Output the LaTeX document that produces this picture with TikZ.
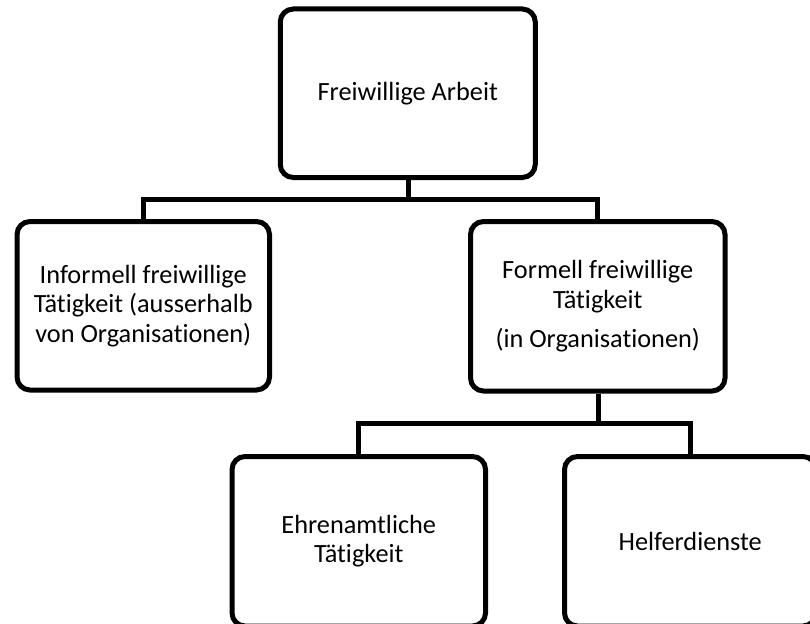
\documentclass[tikz,border=0pt]{standalone}
\usepackage{fontspec}
\setmainfont[RawFeature={-liga;-clig;-dlig}]{Carlito}
\begin{document}
\begin{tikzpicture}[x=1pt,y=-1pt,
  box/.style={draw=black, line width=5pt, rounded corners=13pt, align=center,
    inner sep=0pt, font=\fontsize{26.3}{29.5}\selectfont, text=black},
  link/.style={draw=black, line width=5pt}]
\useasboundingbox (0,0) rectangle (810,623);
\node[box, minimum width=255pt, minimum height=168.5pt] (top) at (407.75,93.25) {Freiwillige Arbeit};
\node[box, minimum width=252.5pt, minimum height=168.5pt] (left) at (143.25,305.75) {Informell freiwillige\\Tätigkeit (ausserhalb\\von Organisationen)};
\node[box, minimum width=254.5pt, minimum height=169.5pt] (right) at (597.75,306.25) {Formell freiwillige\\Tätigkeit\\[10pt](in Organisationen)};
\node[box, minimum width=253.5pt, minimum height=169.5pt] (ehren) at (358.75,541.25) {Ehrenamtliche\\Tätigkeit};
\node[box, minimum width=251.5pt, minimum height=169.5pt] (helfer) at (690.25,541.25) {Helferdienste};
\coordinate (j1) at (408,199.5);
\coordinate (j2) at (598,423);
\draw[link] (top.south -| j1) -- (j1);
\draw[link] (left.north) |- (j1) -| (right.north);
\draw[link] (right.south -| j2) -- (j2);
\draw[link] (ehren.north) |- (j2) -| (helfer.north);
\end{tikzpicture}
\end{document}
